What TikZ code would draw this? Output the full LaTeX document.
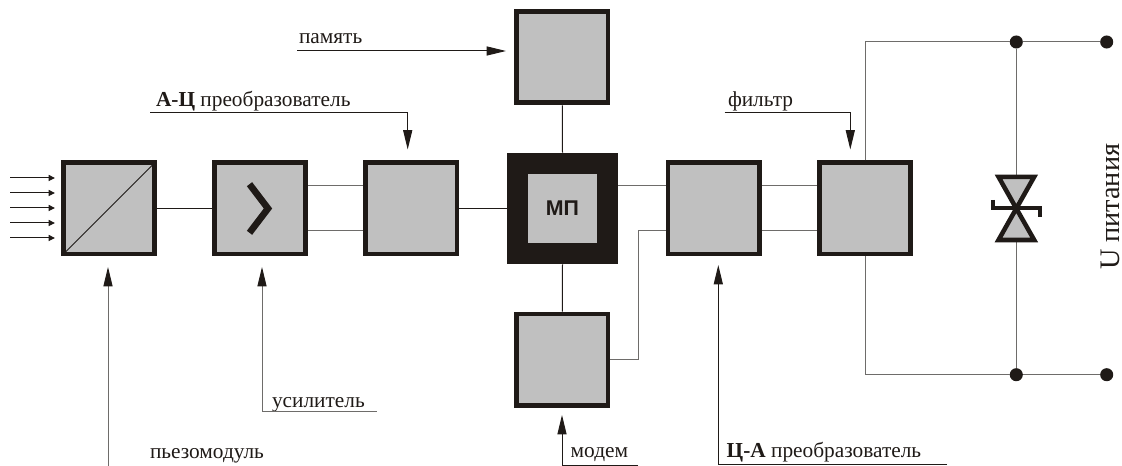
\documentclass[tikz,border=0pt]{standalone}
\usepackage{fontspec}
\setmainfont{Liberation Serif}
\newfontfamily\labelsans{Liberation Sans}
\usetikzlibrary{arrows.meta,calc}
\definecolor{ink}{HTML}{1F1A17}
\definecolor{fillgray}{HTML}{C0C0C0}
\definecolor{softink}{HTML}{6E6C6A}
\tikzset{
  block/.style={draw=ink,fill=fillgray,line width=3.6pt,minimum size=68.4pt,inner sep=0pt,outer sep=1.8pt},
  cpu/.style={draw=ink,fill=fillgray,line width=15.75pt,minimum size=68pt,inner sep=0pt,outer sep=7.875pt,text=ink,font=\labelsans\bfseries\fontsize{16}{18}\selectfont},
  wire/.style={draw=ink,line width=0.75pt},
  softwire/.style={draw=softink,line width=0.75pt},
  bigarrow/.style={wire,-{Triangle[length=14.5pt,width=6.8pt]}},
  softarrow/.style={softwire,-{Triangle[length=14.5pt,width=6.8pt,color=ink]}},
  smallarrow/.style={wire,-{Triangle[length=4.8pt,width=4.6pt]}},
  lbl/.style={anchor=base west,inner sep=0pt,outer sep=0pt,text=ink,font=\fontsize{16}{18}\selectfont},
  dot/.style={circle,fill=ink,minimum size=9.8pt,inner sep=0pt,outer sep=0pt}
}
\begin{document}
\begin{tikzpicture}[x=0.75pt,y=-0.75pt]
\useasboundingbox (0,0) rectangle (1122,466);
% blocks
\node[block] (piezo) at (109,208.5) {};
\node[block] (amp) at (260,208.5) {};
\node[block] (adc) at (411.3,208.5) {};
\node[block] (mem) at (562.3,57.3) {};
\node[cpu] (mp) at (562.5,208.5) {МП};
\node[block] (dac) at (713.5,208.5) {};
\node[block] (flt) at (865,208.5) {};
\node[block] (modem) at (562.3,359.6) {};
% rows
\coordinate (up) at (0,185.7);
\coordinate (lo) at (0,231);
% block interior
\draw[ink,line width=0.6pt] ($(piezo.south west)+(3.5,-3.5)$) -- ($(piezo.north east)+(-3.5,3.5)$);
\coordinate (chevtop) at (249.5,184.2);
\coordinate (chevtip) at (268,208.5);
\coordinate (chevbot) at (249.5,232.8);
\draw[ink,line width=5pt,miter limit=4] (chevtop) -- (chevtip) -- (chevbot);
% connections
\draw[wire] (piezo.east) -- (amp.west);
\draw[softwire] (amp.east |- up) -- (adc.west |- up);
\draw[softwire] (amp.east |- lo) -- (adc.west |- lo);
\draw[wire] (adc.east) -- (mp.west);
\draw[wire] (mem.south) -- (mp.north);
\draw[wire] (mp.south) -- (modem.north);
\draw[softwire] (mp.east |- up) -- (dac.west |- up);
\coordinate (bendx) at (638,0);
\draw[softwire] (modem.east) -- (bendx |- modem.east) -- (bendx |- lo) -- (dac.west |- lo);
\draw[softwire] (dac.east |- up) -- (flt.west |- up);
\draw[softwire] (dac.east |- lo) -- (flt.west |- lo);
% power rails
\node[dot] (dtj) at (1016.3,42) {};
\node[dot] (dtr) at (1106.7,42) {};
\node[dot] (dbj) at (1016.3,374.7) {};
\node[dot] (dbr) at (1106.7,374.7) {};
\draw[softwire] (flt.north) -- (flt.north |- dtj) -- (dtj.west);
\draw[softwire] (dtj.east) -- (dtr.west);
\draw[softwire] (flt.south) -- (flt.south |- dbj) -- (dbj.west);
\draw[softwire] (dbj.east) -- (dbr.west);
% suppressor
\coordinate (vtl) at (998.5,176.8);
\coordinate (vtr) at (1034.2,176.8);
\coordinate (vc) at (1016.3,208.5);
\coordinate (vbl) at (998.5,240);
\coordinate (vbr) at (1034.2,240);
\coordinate (vtop) at (1016.3,175);
\coordinate (vbot) at (1016.3,242);
\draw[softwire] (dtj.south) -- (vtop);
\draw[softwire] (vbot) -- (dbj.north);
\draw[draw=ink,fill=fillgray,line width=3.4pt,line join=miter]
  (vtl) -- (vtr) -- (vc) -- cycle;
\draw[draw=ink,fill=fillgray,line width=3.4pt,line join=miter]
  (vbl) -- (vbr) -- (vc) -- cycle;
\coordinate (bar1) at (993,200);
\coordinate (bar2) at (993,208.3);
\coordinate (bar3) at (1039.5,208.3);
\coordinate (bar4) at (1039.5,217);
\draw[ink,line width=3pt] (bar1) -- (bar2) -- (bar3) -- (bar4);
% input arrows
\foreach \n/\yy in {a/178,b/193,c/208,d/223,e/238}{
  \coordinate (in\n) at (10,\yy);
  \coordinate (it\n) at (55,\yy);
  \draw[smallarrow] (in\n) -- (it\n);
}
% callouts
\node[lbl] (tmem) at (299,44) {память};
\coordinate (cmemA) at (297,51);
\coordinate (cmemB) at (506,51);
\draw[bigarrow] (cmemA) -- (cmemB);

\node[lbl] (tadc) at (156,107) {\textbf{А-Ц} преобразователь};
\coordinate (cadcA) at (150,112.7);
\coordinate (cadcB) at (407.7,112.7);
\coordinate (cadcC) at (407.7,149.5);
\draw[bigarrow] (cadcA) -- (cadcB) -- (cadcC);

\node[lbl] (tflt) at (728,107) {фильтр};
\coordinate (cfltA) at (724.7,112.7);
\coordinate (cfltB) at (850.3,112.7);
\coordinate (cfltC) at (850.3,149.5);
\draw[bigarrow] (cfltA) -- (cfltB) -- (cfltC);

\node[lbl] (tpiezo) at (150,459) {пьезомодуль};
\coordinate (cpzA) at (108,466);
\coordinate (cpzB) at (108,267);
\draw[softarrow] (cpzA) -- (cpzB);

\node[lbl] (tamp) at (272,408) {усилитель};
\coordinate (campA) at (376.7,412);
\coordinate (campB) at (262,412);
\coordinate (campC) at (262,267);
\draw[softarrow] (campA) -- (campB) -- (campC);

\node[lbl] (tmodem) at (570.7,458) {модем};
\coordinate (cmodA) at (638,466);
\coordinate (cmodB) at (562,466);
\coordinate (cmodC) at (562,415);
\draw[bigarrow] (cmodA) -- (cmodB) -- (cmodC);

\node[lbl] (tdac) at (726.7,458) {\textbf{Ц-А} преобразователь};
\coordinate (cdacA) at (947,465);
\coordinate (cdacB) at (718.3,465);
\coordinate (cdacC) at (718.3,265);
\draw[bigarrow] (cdacA) -- (cdacB) -- (cdacC);

\node[lbl,rotate=90,font=\fontsize{21.2}{24}\selectfont] (tpow) at (1119.5,270) {U питания};
\end{tikzpicture}
\end{document}
